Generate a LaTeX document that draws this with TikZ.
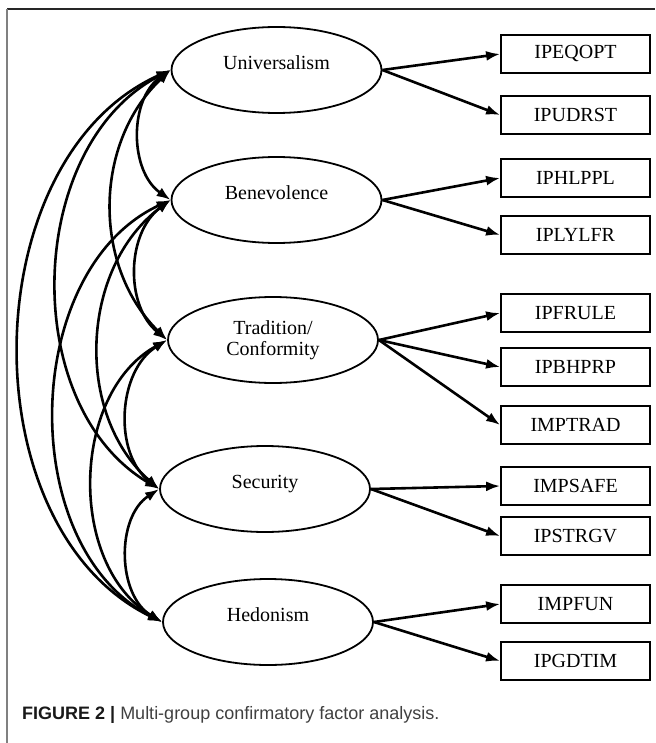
\documentclass[tikz,border=0pt]{standalone}
\usepackage{fontspec}
\setmainfont{Liberation Serif}
\newfontfamily\capfont{Liberation Sans}
\usepackage{tikz}
\usetikzlibrary{shapes.geometric, arrows.meta, positioning}

\begin{document}
\begin{tikzpicture}[x=1pt, y=-1pt,
    factor/.style={draw, ellipse, line width=1.8pt, minimum width=210pt, minimum height=86pt, inner sep=0pt, font=\fontsize{20}{21}\selectfont, align=center},
    raised/.style={text height=14pt, text depth=15pt},
    item/.style={draw, rectangle, line width=1.8pt, minimum width=149pt, minimum height=38pt, inner sep=0pt, font=\fontsize{20}{23}\selectfont},
    load/.style={line width=2.6pt, -{Latex[length=14pt, width=10pt]}},
    cov/.style={line width=2.6pt, {Latex[length=14pt, width=10pt]}-{Latex[length=14pt, width=10pt]}}]
\useasboundingbox (0,0) rectangle (655,743);
% frame of the figure
\draw[line width=1.5pt, black!85] (7,9) -- (655,9);
\draw[line width=1.5pt, black!50] (7,9) -- (7,743);

% latent factors
\node[factor, raised] (uni) at (276.5,70) {Universalism};
\node[factor, raised] (ben) at (276.5,200) {Benevolence};
\node[factor] (tra) at (273,340) {Tradition/\\Conformity};
\node[factor, raised] (sec) at (265,489) {Security};
\node[factor, raised] (hed) at (268,622) {Hedonism};

% observed items
\node[item] (eqopt) at (575.5,54) {IPEQOPT};
\node[item] (udrst) at (575.5,115) {IPUDRST};
\node[item] (hlppl) at (575.5,178) {IPHLPPL};
\node[item] (lylfr) at (575.5,235) {IPLYLFR};
\node[item] (frule) at (575.5,313) {IPFRULE};
\node[item] (bhprp) at (575.5,367) {IPBHPRP};
\node[item] (mptrad) at (575.5,425) {IMPTRAD};
\node[item] (mpsafe) at (575.5,486) {IMPSAFE};
\node[item] (strgv) at (575.5,536) {IPSTRGV};
\node[item] (mpfun) at (575.5,604) {IMPFUN};
\node[item] (gdtim) at (575.5,661) {IPGDTIM};

% loadings
\foreach \f/\i in {uni/eqopt, uni/udrst, ben/hlppl, ben/lylfr, tra/frule, tra/bhprp, tra/mptrad, sec/mpsafe, sec/strgv, hed/mpfun, hed/gdtim} {
    \draw[load] (\f.east) -- (\i.west);
}

% covariances between factors
\foreach \a/\b/\ang in {uni/ben/55, ben/tra/52, tra/sec/55, sec/hed/58, uni/tra/46, ben/sec/51, tra/hed/60, uni/sec/61, ben/hed/64, uni/hed/65} {
    \draw[cov] (\a.west) to[bend right=\ang] (\b.west);
}

\node[anchor=base west, inner sep=0pt, font=\capfont\fontsize{18}{21}\selectfont, text=black!75] (cap) at (22,719) {\textbf{\color{black!90}FIGURE 2 |} Multi-group confirmatory factor analysis.};
\end{tikzpicture}
\end{document}
